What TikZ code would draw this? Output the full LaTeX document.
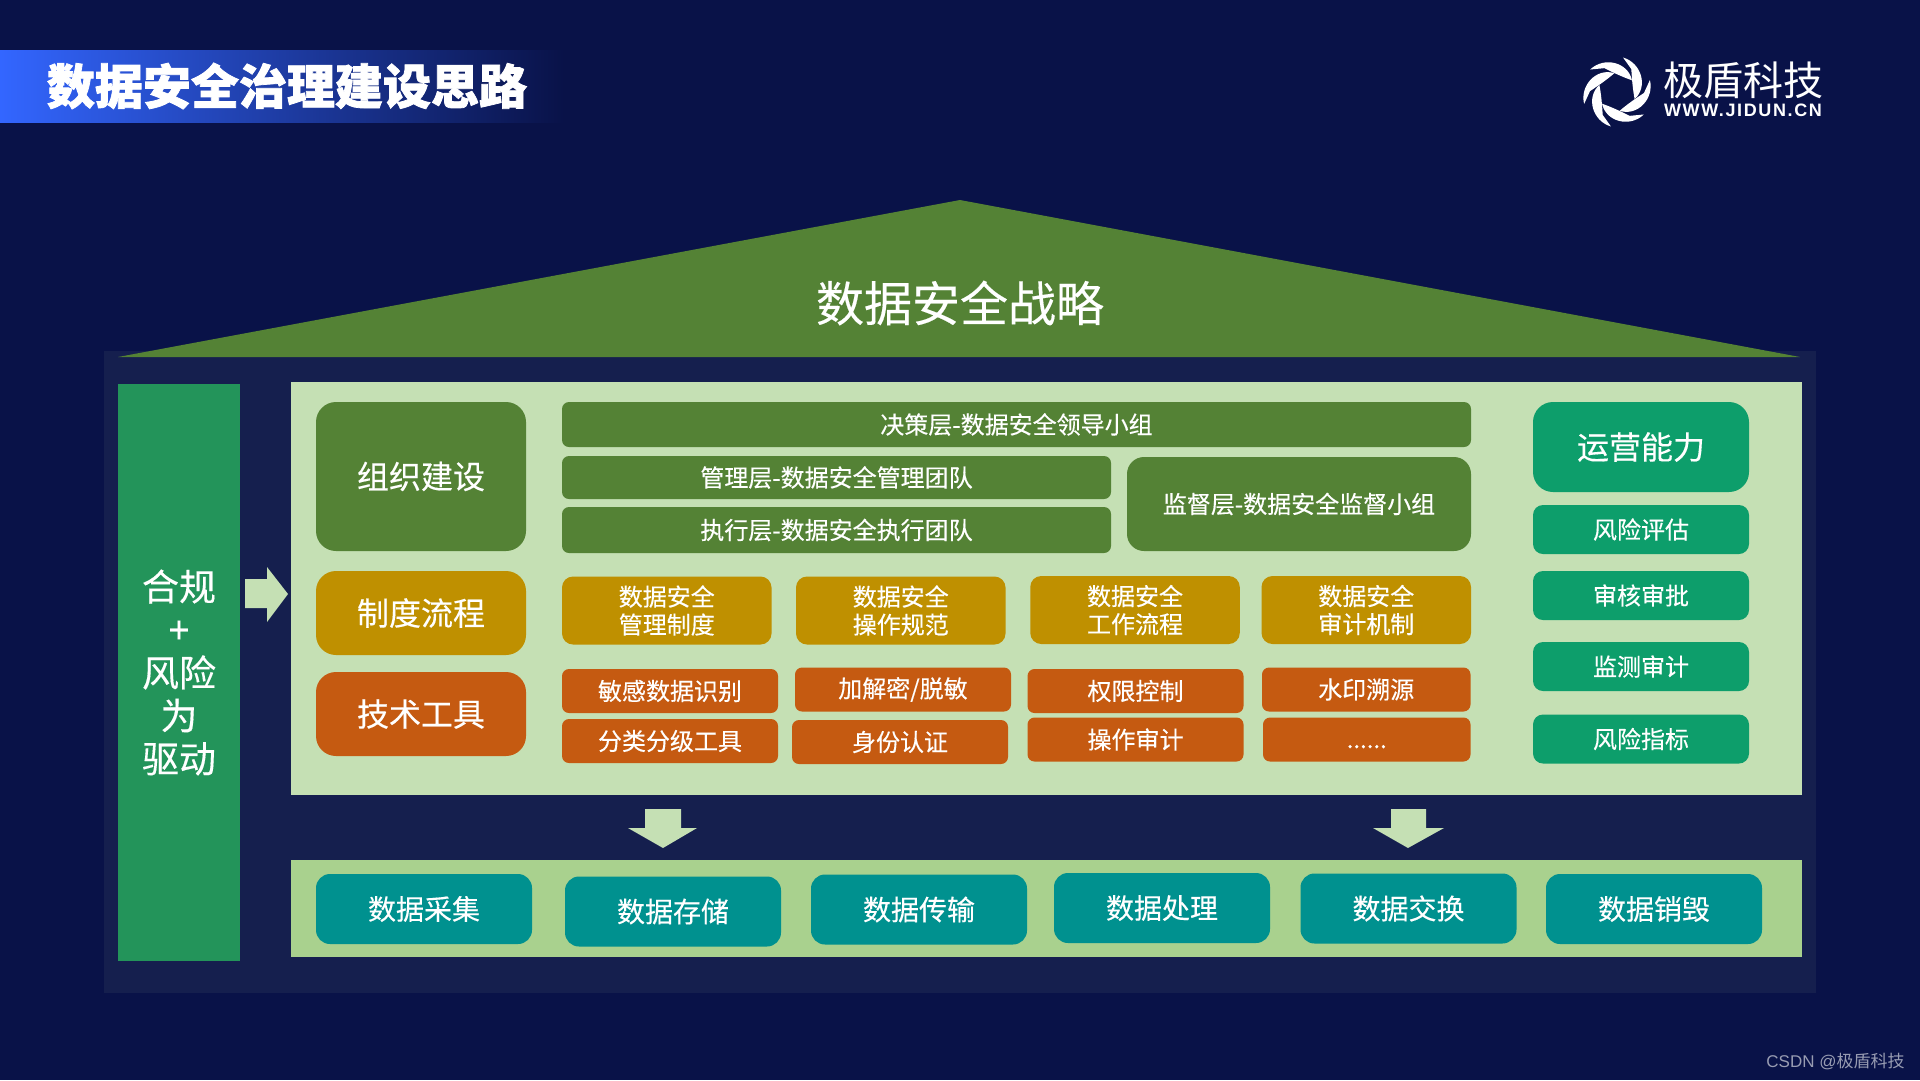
\documentclass[tikz,border=0pt]{standalone}
\usepackage{fontspec}
\setmainfont[FakeBold=0.3,BoldFeatures={FakeBold=1.6}]{Noto Sans CJK SC}
\newfontfamily\brandfont{Noto Sans CJK SC}
\newfontfamily\latinfont{Liberation Sans}
\newfontfamily\logofont[LetterSpace=9]{Liberation Sans}
\definecolor{bgblue}{RGB}{9,18,72}
\definecolor{panelblue}{RGB}{21,31,78}
\definecolor{palegreen}{RGB}{197,224,180}
\definecolor{midgreen}{RGB}{169,209,142}
\definecolor{leafgreen}{RGB}{84,130,53}
\definecolor{goldbox}{RGB}{191,144,0}
\definecolor{rustbox}{RGB}{197,90,17}
\definecolor{barteal}{RGB}{35,148,90}
\definecolor{opsteal}{RGB}{13,158,107}
\definecolor{lifeteal}{RGB}{0,145,143}
\tikzset{
  box/.style={text=white,inner sep=0pt,align=center},
  bigbox/.style={box,minimum width=210,rounded corners=20pt,font=\fontsize{32}{38}\selectfont},
  orgbar/.style={box,fill=leafgreen,rounded corners=7pt,font=\fontsize{24}{28}\selectfont},
  goldcell/.style={box,fill=goldbox,minimum width=209.5,minimum height=68,rounded corners=11pt,font=\fontsize{24}{28}\selectfont},
  rustcell/.style={box,fill=rustbox,minimum width=216,minimum height=44,rounded corners=7pt,font=\fontsize{24}{28}\selectfont},
  opscell/.style={box,fill=opsteal,minimum width=216,minimum height=49,rounded corners=10pt,font=\fontsize{24}{28}\selectfont},
  lifecell/.style={box,fill=lifeteal,minimum width=216,minimum height=70,rounded corners=14pt,font=\fontsize{28}{32}\selectfont},
  blockarrow/.style={fill=palegreen}
}
\begin{document}
\begin{tikzpicture}[x=1pt,y=-1pt]
  \useasboundingbox (0,0) rectangle (1920,1080);
  \fill[bgblue] (0,0) rectangle (1920,1080);
  \fill[panelblue] (104,351) rectangle (1816,993);
  % header
  \shade[left color={rgb,255:red,51;green,102;blue,255},right color=bgblue] (0,50) rectangle (564,122);
  \node[box,font=\fontsize{48}{54}\selectfont\bfseries] (title) at (287,86) {数据安全治理建设思路};
  \node[box,font=\fontsize{40}{44}\selectfont\brandfont] (brand) at (1743,80) {极盾科技};
  \node[box,font=\fontsize{18}{20}\selectfont\logofont\bfseries] (site) at (1743,110) {WWW.JIDUN.CN};
  \foreach \a in {0,60,...,300}
    \fill[white,shift={(1617,92)},rotate=\a] (-80:35) .. controls (-50:38) and (-10:32) .. (22:19) .. controls (-8:16) and (-38:19) .. (-58:27) -- cycle;
  % roof
  \fill[leafgreen] (960,200) -- (1800,357) -- (118,357) -- cycle;
  \node[box,font=\fontsize{48}{54}\selectfont] (roof) at (960,303) {数据安全战略};
  % left bar
  \node[box,fill=barteal,minimum width=122,minimum height=577,font=\fontsize{37}{43}\selectfont] (driver) at (179,672.5) {合规\\+\\风险\\为\\驱动};
  \fill[blockarrow] (245,579) -- (267,579) -- (267,567) -- (288,594) -- (267,622) -- (267,608) -- (245,608) -- cycle;
  % main panels
  \fill[palegreen] (291,382) rectangle (1802,795);
  \fill[midgreen] (291,860) rectangle (1802,957);
  \fill[blockarrow] (645,809) -- (681,809) -- (681,828) -- (697,828) -- (663,848) -- (628,828) -- (645,828) -- cycle;
  \fill[blockarrow] (1391,809) -- (1426,809) -- (1426,828) -- (1444,828) -- (1408,848) -- (1373,828) -- (1391,828) -- cycle;
  % row heads
  \node[bigbox,fill=leafgreen,minimum height=149] (org) at (421,476.5) {组织建设};
  \node[bigbox,fill=goldbox,minimum height=84] (rules) at (421,613) {制度流程};
  \node[bigbox,fill=rustbox,minimum height=84] (tools) at (421,714) {技术工具};
  % organisation
  \node[orgbar,minimum width=909,minimum height=45] (decide) at (1016.5,424.5) {决策层-数据安全领导小组};
  \node[orgbar,minimum width=549,minimum height=43] (manage) at (836.5,477.5) {管理层-数据安全管理团队};
  \node[orgbar,minimum width=549,minimum height=46] (execute) at (836.5,530) {执行层-数据安全执行团队};
  \node[orgbar,minimum width=344,minimum height=94,rounded corners=17pt] (audit) at (1299,504) {监督层-数据安全监督小组};
  % rules
  \foreach \id/\x/\y/\txt in {ruleA/666.75/610.5/管理制度,ruleB/900.75/610.5/操作规范,ruleC/1135/610/工作流程,ruleD/1366.25/610/审计机制}
    \node[goldcell] (\id) at (\x,\y) {数据安全\\\txt};
  % tools
  \foreach \id/\x/\y/\txt in {toolA/670/691/敏感数据识别,toolC/1135.5/691/权限控制,toolE/670/741/分类分级工具,toolF/900/742/身份认证,toolG/1135.5/739.5/操作审计}
    \node[rustcell] (\id) at (\x,\y) {\txt};
  \node[rustcell] (toolB) at (903,689.5) {加解密/脱敏};
  \node[rustcell,minimum width=208.5] (toolD) at (1366.25,689.5) {水印溯源};
  \node[rustcell,minimum width=207.5,text height=20,text depth=3] (toolH) at (1366.75,739.5) {......};
  % operations
  \node[bigbox,fill=opsteal,minimum width=216,minimum height=90] (ops) at (1641,447) {运营能力};
  \foreach \id/\y/\txt in {opsA/529.5/风险评估,opsB/595.5/审核审批,opsC/666.5/监测审计,opsD/739/风险指标}
    \node[opscell] (\id) at (1641,\y) {\txt};
  % lifecycle
  \foreach \id/\x/\y/\txt in {lifeA/424/909/数据采集,lifeB/673/911.5/数据存储,lifeC/919/909.5/数据传输,lifeD/1162/908/数据处理,lifeE/1408.5/908.5/数据交换,lifeF/1654/909/数据销毁}
    \node[lifecell] (\id) at (\x,\y) {\txt};
  % watermark
  \node[box,text=white!58!bgblue,font=\fontsize{17}{20}\selectfont\brandfont] (mark) at (1835.5,1062) {{\latinfont CSDN @}极盾科技};
\end{tikzpicture}
\end{document}
